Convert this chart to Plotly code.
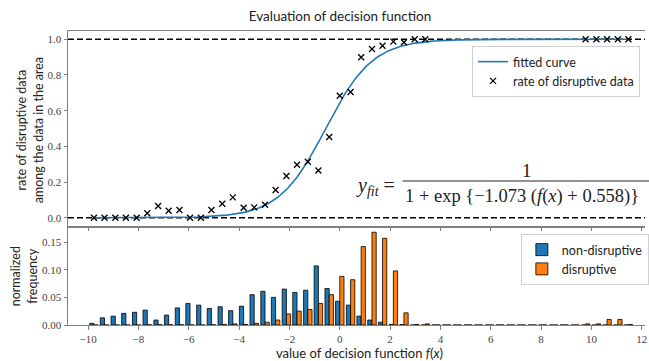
import numpy as np
import plotly.graph_objects as go

# Histogram bin centres on the decision-function axis
bin_centers = [-9.77, -9.35, -8.92, -8.50, -8.07, -7.65, -7.22, -6.80, -6.37, -5.95,
               -5.52, -5.10, -4.67, -4.25, -3.82, -3.40, -2.97, -2.55, -2.12, -1.70,
               -1.27, -0.85, -0.42, 0.00, 0.43, 0.85, 1.28, 1.70, 2.13, 2.55,
               2.98, 3.40, 3.83, 4.25, 4.67, 5.10, 5.52, 5.95, 6.37, 6.80,
               7.22, 7.65, 8.07, 8.50, 8.92, 9.35, 9.77, 10.20, 10.62, 11.05, 11.47]

# Rate of disruptive data per populated bin
rate_x = bin_centers[0:32] + bin_centers[46:51]
rate_y = [0, 0, 0, 0, 0, 0.025, 0.066, 0.039, 0.043, 0,
          0, 0.043, 0.078, 0.114, 0.056, 0.058, 0.073, 0.155, 0.234, 0.297,
          0.314, 0.265, 0.452, 0.684, 0.705, 0.899, 0.946, 0.964, 0.987, 0.983,
          1.0, 1.0,
          1.0, 1.0, 1.0, 1.0, 1.0]

# Normalized frequencies
nondisruptive_freq = [0.003, 0.013, 0.016, 0.021, 0.023, 0.027, 0.009, 0.018, 0.031, 0.039,
                      0.036, 0.030, 0.033, 0.026, 0.034, 0.055, 0.061, 0.050, 0.065, 0.059,
                      0.063, 0.107, 0.066, 0.043, 0.036, 0.016, 0.009, 0.005, 0.001, 0.0006,
                      0, 0, 0, 0, 0, 0, 0, 0, 0, 0,
                      0, 0, 0, 0, 0, 0, 0, 0, 0, 0, 0]
disruptive_freq = [0, 0, 0, 0, 0, 0.0004, 0.0004, 0.0004, 0.0004, 0,
                   0, 0.0004, 0.001, 0.002, 0.001, 0.003, 0.005, 0.009, 0.020, 0.025,
                   0.028, 0.039, 0.055, 0.088, 0.082, 0.142, 0.168, 0.157, 0.098, 0.022,
                   0.001, 0.002, 0, 0, 0, 0, 0, 0, 0, 0,
                   0, 0, 0, 0, 0, 0, 0.002, 0.002, 0.010, 0.010, 0.001]

# Logistic fit parameters
fit_slope = 1.073
fit_shift = 0.558

x_ticks = [-10, -8, -6, -4, -2, 0, 2, 4, 6, 8, 10, 12]
top_y_ticks = [0.0, 0.2, 0.4, 0.6, 0.8, 1.0]
bottom_y_ticks = [0.00, 0.05, 0.10, 0.15]

BLUE = "#1f77b4"
ORANGE = "#ff7f0e"
SPINE = "#808080"
SANS = "Lato, 'Open Sans', sans-serif"
SERIF = "'Liberation Serif', 'DejaVu Serif', serif"

W, H = 649, 361
ML, MR, MT, MB = 68, 0, 31, 36
PW, PH = W - ML - MR, H - MT - MB


def px_x(p):
    return (p - ML) / PW


def px_y(p):
    return 1 - (p - MT) / PH


split = px_y(226.7)

fit_x = np.linspace(min(rate_x), max(rate_x), 400)
fit_y = 1.0 / (1.0 + np.exp(-fit_slope * (fit_x + fit_shift)))

fig = go.Figure()

fig.add_trace(go.Scatter(x=fit_x, y=fit_y, mode="lines", name="fitted curve",
                         line=dict(color=BLUE, width=1.6), xaxis="x", yaxis="y",
                         legend="legend"))
fig.add_trace(go.Scatter(x=rate_x, y=rate_y, mode="markers", name="rate of disruptive data",
                         marker=dict(symbol="x-thin", size=6, color="black",
                                     line=dict(color="black", width=1.3)),
                         xaxis="x", yaxis="y", legend="legend"))

fig.add_trace(go.Bar(x=bin_centers, y=nondisruptive_freq, name="non-disruptive",
                     marker=dict(color=BLUE, line=dict(color="black", width=0.8)),
                     xaxis="x2", yaxis="y2", legend="legend2"))
fig.add_trace(go.Bar(x=bin_centers, y=disruptive_freq, name="disruptive",
                     marker=dict(color=ORANGE, line=dict(color="black", width=0.8)),
                     xaxis="x2", yaxis="y2", legend="legend2"))

for level in (0.0, 1.0):
    fig.add_shape(type="line", xref="x domain", yref="y", x0=0, x1=1, y0=level, y1=level,
                  line=dict(color="black", width=1.5, dash="6px,3px"), layer="below")

axis_common = dict(range=[-10.8, 12.13], showgrid=False, zeroline=False, showline=True,
                   linecolor=SPINE, linewidth=1, mirror=True, ticks="outside", ticklen=3.5,
                   tickwidth=0.8, tickcolor=SPINE, tickvals=x_ticks)

annotations = [
    dict(text="rate of disruptive data<br>among the data in the area", textangle=-90,
         xref="paper", yref="paper", x=px_x(29), y=px_y(130), showarrow=False,
         font=dict(family=SANS, size=12.5, color="#222"), xanchor="center", yanchor="middle"),
    dict(text="normalized<br>frequency", textangle=-90,
         xref="paper", yref="paper", x=px_x(23), y=px_y(276), showarrow=False,
         font=dict(family=SANS, size=12.5, color="#222"), xanchor="center", yanchor="middle"),
    dict(text="value of decision function <i>f</i>(<i>x</i>)", xref="paper", yref="paper",
         x=px_x(362), y=px_y(353), showarrow=False, xanchor="center", yanchor="middle",
         font=dict(family=SANS, size=13, color="#222")),
    dict(text="<i>y</i><sub><i>fit</i></sub> =", xref="paper", yref="paper",
         x=px_x(399), y=px_y(186), showarrow=False, xanchor="right", yanchor="middle",
         font=dict(family=SERIF, size=20, color="#222")),
    dict(text="1", xref="paper", yref="paper", x=px_x(530), y=px_y(170), showarrow=False,
         xanchor="center", yanchor="middle", font=dict(family=SERIF, size=19, color="#222")),
    dict(text="1 + exp {\u2212%.3f (<i>f</i>(<i>x</i>) + %.3f)}" % (fit_slope, fit_shift),
         xref="paper", yref="paper", x=px_x(405), y=px_y(196), showarrow=False,
         xanchor="left", yanchor="middle", font=dict(family=SERIF, size=18.5, color="#222")),
]

fig.add_shape(type="line", xref="paper", yref="paper", x0=px_x(405), x1=px_x(660),
              y0=px_y(181), y1=px_y(181), line=dict(color="#222", width=1))

fig.update_layout(
    width=W, height=H, margin=dict(l=ML, r=MR, t=MT, b=MB),
    paper_bgcolor="white", plot_bgcolor="white",
    title=dict(text="Evaluation of decision function", x=340 / W, xanchor="center",
               y=1 - 16 / H, yanchor="middle", yref="container",
               font=dict(family=SANS, size=13.5, color="#222")),
    barmode="group", bargap=0.2, bargroupgap=0,
    xaxis=dict(anchor="y", domain=[0, 1], showticklabels=False, matches="x2", **axis_common),
    xaxis2=dict(anchor="y2", domain=[0, 1],
                tickfont=dict(family=SERIF, size=11, color="#444"), **axis_common),
    yaxis=dict(domain=[split, 1], range=[-0.0504, 1.0465], showgrid=False, zeroline=False,
               showline=True, linecolor=SPINE, linewidth=1, ticks="outside", ticklen=3.5,
               tickwidth=0.8, tickcolor=SPINE, tickvals=top_y_ticks, tickformat=".1f",
               tickfont=dict(family=SERIF, size=11, color="#444")),
    yaxis2=dict(domain=[0, split], range=[0, 0.178], showgrid=False, zeroline=False,
                showline=True, linecolor=SPINE, linewidth=1, ticks="outside", ticklen=3.5,
                tickwidth=0.8, tickcolor=SPINE, tickvals=bottom_y_ticks, tickformat=".2f",
                tickfont=dict(family=SERIF, size=11, color="#444")),
    legend=dict(x=px_x(644), y=px_y(46), xanchor="right", yanchor="top",
                bgcolor="rgba(255,255,255,0.85)", bordercolor="#d0d0d0", borderwidth=1,
                font=dict(family=SANS, size=12.5, color="#222"), itemwidth=30,
                tracegroupgap=0),
    legend2=dict(x=px_x(524), y=px_y(234), xanchor="left", yanchor="top",
                 bgcolor="rgba(255,255,255,0.85)", bordercolor="#d0d0d0", borderwidth=1,
                 font=dict(family=SANS, size=12.5, color="#222"), itemwidth=30,
                 tracegroupgap=0),
    annotations=annotations,
    showlegend=True,
)

fig.write_html("out.html")
